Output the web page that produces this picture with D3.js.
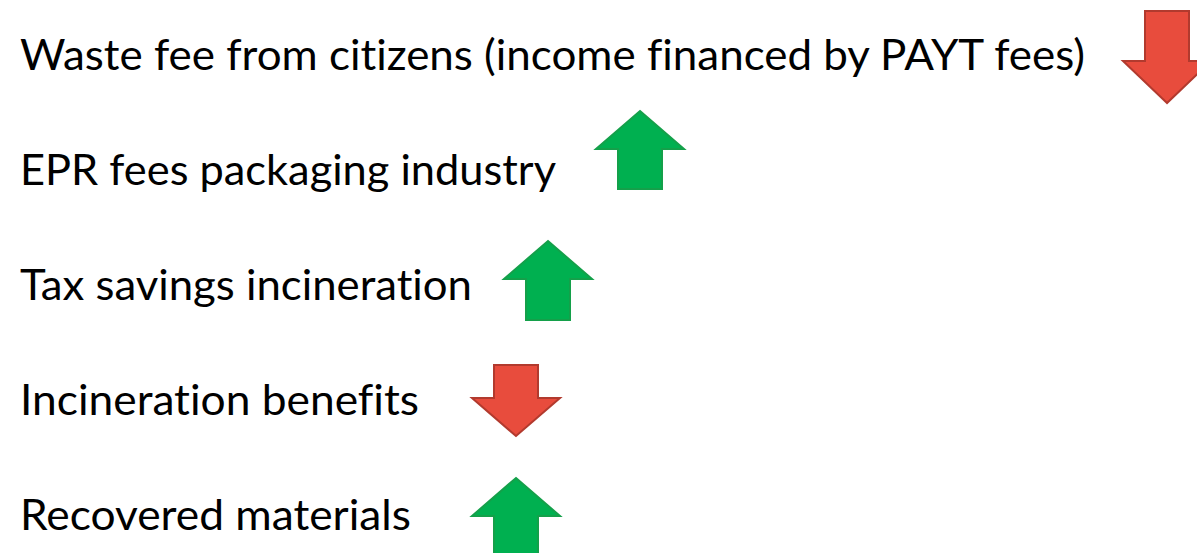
<!DOCTYPE html>
<html>
<head>
<meta charset="utf-8">
<script src="https://cdn.jsdelivr.net/npm/d3@7"></script>
<style>
  html, body { margin: 0; padding: 0; background: #fff; }
  svg { display: block; }
  text.label { font-variant-ligatures: none; font-feature-settings: "liga" 0, "clig" 0; }
</style>
</head>
<body>
<div id="chart"></div>
<script>
// rows of the chart, top to bottom
const labels = [
  "Waste fee from citizens (income financed by PAYT fees)",
  "EPR fees packaging industry",
  "Tax savings incineration",
  "Incineration benefits",
  "Recovered materials"
]
// +1 = goes up (green), -1 = goes down (red)
const direction = [-1, 1, 1, -1, 1]

// layout
const textRight = [1085, 556, 472, 419, 411]     // where each label ends
const arrowCx = [1167, 640, 548, 516, 516]        // arrow centre x
const arrowTop = [-59, -74, -59, -50, -52]        // arrow top, relative to baseline
const arrowBottom = [33, 4, 20, 21, 28]           // arrow bottom, relative to baseline

const width = 1197, height = 553
const colors = {
  up: { fill: "#00B050", stroke: "#14A04A" },
  down: { fill: "#E84C3D", stroke: "#B23A2E" }
}

const svg = d3.select("#chart").append("svg")
  .attr("width", width)
  .attr("height", height)

// baselines of the rows
const y = d3.scalePoint()
  .domain(labels)
  .range([70, 530])

const rows = labels.map((l, i) => ({
  label: l, dir: direction[i], i: i
}))

svg.selectAll("text.label")
  .data(rows)
  .enter().append("text")
  .attr("class", "label")
  .attr("x", 20)
  .attr("y", d => y(d.label))
  .attr("font-family", "Lato, 'Open Sans', sans-serif")
  .attr("font-size", 42)
  .attr("fill", "#000")
  .attr("textLength", d => textRight[d.i] - 20)
  .attr("lengthAdjust", "spacingAndGlyphs")
  .text(d => d.label)

// block arrow, head width 88, shaft 44
function arrowPath(cx, top, bottom, dir, hh) {
  let hw = 44, sw = 22
  let p
  if (dir > 0) {
    let hb = top + hh
    p = [[cx, top], [cx + hw, hb], [cx + sw, hb], [cx + sw, bottom],
         [cx - sw, bottom], [cx - sw, hb], [cx - hw, hb]]
  } else {
    let hb = bottom - hh
    p = [[cx, bottom], [cx - hw, hb], [cx - sw, hb], [cx - sw, top],
         [cx + sw, top], [cx + sw, hb], [cx + hw, hb]]
  }
  return d3.line()(p) + "Z"
}

svg.selectAll("path.arrow")
  .data(rows)
  .enter().append("path")
  .attr("class", "arrow")
  .attr("d", d => {
    let b = y(d.label)
    let top = b + arrowTop[d.i], bottom = b + arrowBottom[d.i]
    let hh = d.i == 0 ? 42 : 38
    return arrowPath(arrowCx[d.i], top, bottom, d.dir, hh)
  })
  .attr("fill", d => d.dir > 0 ? colors.up.fill : colors.down.fill)
  .attr("stroke", d => d.dir > 0 ? colors.up.stroke : colors.down.stroke)
  .attr("stroke-width", 2)
  .attr("stroke-linejoin", "miter")
</script>
</body>
</html>
